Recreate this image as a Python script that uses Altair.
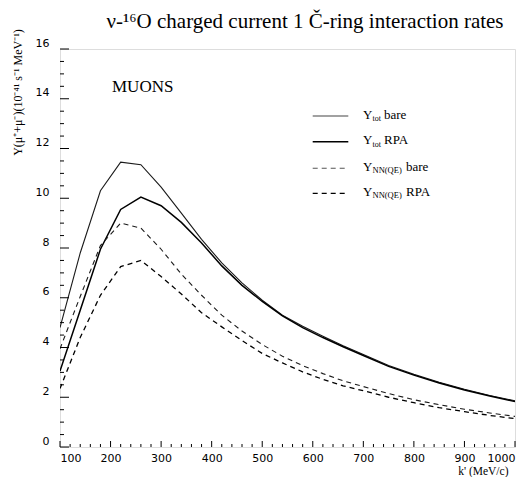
import altair as alt
import pandas as pd

# ---- data ----
k_vals = [100, 140, 180, 220, 260, 300, 340, 380, 420, 460, 500, 540, 580,
          620, 660, 700, 750, 800, 850, 900, 950, 1000]
ytot_bare = [4.8, 7.8, 10.3, 11.45, 11.35, 10.45, 9.4, 8.35, 7.4, 6.6, 5.9, 5.3,
             4.85, 4.45, 4.07, 3.72, 3.28, 2.92, 2.6, 2.32, 2.07, 1.86]
ytot_rpa = [3.05, 5.5, 7.95, 9.55, 10.05, 9.7, 9.03, 8.2, 7.28, 6.5, 5.85, 5.27,
            4.8, 4.4, 4.03, 3.68, 3.24, 2.89, 2.57, 2.29, 2.05, 1.83]
ynn_bare = [3.95, 6.05, 8.1, 9.0, 8.8, 7.95, 6.95, 6.1, 5.3, 4.66, 4.12, 3.65,
            3.27, 2.95, 2.66, 2.43, 2.15, 1.9, 1.7, 1.52, 1.37, 1.23]
ynn_rpa = [2.35, 4.4, 6.1, 7.25, 7.5, 6.85, 6.15, 5.4, 4.83, 4.28, 3.76, 3.38,
           3.02, 2.72, 2.46, 2.26, 2.0, 1.78, 1.58, 1.42, 1.27, 1.14]

x_major = list(range(100, 1001, 100))
x_minor = [v for v in range(100, 1001, 20) if v % 100 != 0]
y_major = [0, 2, 4, 6, 8, 10, 12, 14, 16]
y_minor = [v / 2 for v in range(0, 33) if v % 4 != 0]

W, H = 455, 398
SERIF = "Liberation Serif"
SANS = "DejaVu Sans"

rows = []
for name, vals in [("tot_bare", ytot_bare), ("tot_rpa", ytot_rpa),
                   ("nn_bare", ynn_bare), ("nn_rpa", ynn_rpa)]:
    for k, v in zip(k_vals, vals):
        rows.append({"k": k, "y": v, "s": name})
df = pd.DataFrame(rows)

xs = alt.Scale(domain=[100, 1000], nice=False, zero=False)
ys = alt.Scale(domain=[0, 16], nice=False, zero=False)

base = alt.Chart(df)

def curve(name, width, color, dash=None):
    kw = dict(strokeWidth=width, color=color, clip=True)
    if dash:
        kw["strokeDash"] = dash
    return base.transform_filter(alt.datum.s == name).mark_line(**kw).encode(
        x=alt.X("k:Q", scale=xs,
                axis=alt.Axis(values=x_major, format="d", ticks=False, grid=False,
                              domain=False, labelFont=SANS, labelFontSize=11,
                              labelPadding=5, labelColor="black",
                              title="k' (MeV/c)", titleFont=SERIF, titleFontSize=11.5,
                              titleFontWeight="normal", titleX=448, titleY=24,
                              titleAlign="right", titleBaseline="middle",
                              titleAnchor="end")),
        y=alt.Y("y:Q", scale=ys,
                axis=alt.Axis(values=y_major, format="d", ticks=False, grid=False,
                              domain=False, labelFont=SANS, labelFontSize=11,
                              labelPadding=11, labelColor="black", labelOffset=-6,
                              title="Y(μ⁺+μ⁻)(10⁻⁴¹ s⁻¹ MeV⁻¹)", titleFont=SERIF,
                              titleFontSize=12, titleFontWeight="normal",
                              titleAngle=270, titleX=-43, titleY=43,
                              titleAlign="center", titleBaseline="middle")),
    )

lines = [
    curve("tot_bare", 1.1, "#1a1a1a"),
    curve("tot_rpa", 1.5, "black"),
    curve("nn_bare", 1.1, "#1a1a1a", [5, 4]),
    curve("nn_rpa", 1.3, "black", [5, 4]),
]

# inward ticks
def xticks(vals, length):
    return alt.Chart(pd.DataFrame({"k": vals})).mark_rule(color="black", strokeWidth=1).encode(
        x=alt.X("k:Q", scale=xs), y=alt.value(H), y2=alt.value(H - length))

def yticks(vals, length):
    return alt.Chart(pd.DataFrame({"y": vals})).mark_rule(color="black", strokeWidth=1).encode(
        y=alt.Y("y:Q", scale=ys), x=alt.value(0), x2=alt.value(length))

ticks = [xticks(x_major, 6), xticks(x_minor, 3), yticks(y_major, 9), yticks(y_minor, 4)]

def text(t, x, y, size, align="left", baseline="alphabetic", font=SERIF):
    return alt.Chart(pd.DataFrame({"t": [t]})).mark_text(
        font=font, fontSize=size, align=align, baseline=baseline, color="black"
    ).encode(x=alt.value(x), y=alt.value(y), text="t:N")

annotations = [
    text("ν-¹⁶O charged current 1 Č-ring interaction rates", 245, -27, 21,
         align="center", baseline="middle"),
    text("MUONS", 52, 43, 17),
]

# legend
leg_entries = [
    ("tot", "bare", 67, 1.1, "#444", None),
    ("tot", "RPA", 92.7, 1.5, "black", None),
    ("NN(QE)", "bare", 119.3, 1.1, "#555", [5, 4]),
    ("NN(QE)", "RPA", 144.3, 1.3, "black", [5, 4]),
]
legend = []
for sub, word, ly, sw, col, dash in leg_entries:
    kw = dict(color=col, strokeWidth=sw)
    if dash:
        kw["strokeDash"] = dash
    legend.append(alt.Chart(pd.DataFrame({"a": [0]})).mark_rule(**kw).encode(
        x=alt.value(252.7), x2=alt.value(288.3), y=alt.value(ly)))
    legend.append(text("Y", 303, ly + 2.5, 13))
    legend.append(text(sub, 312.5, ly + 5, 8 if sub == "tot" else 8.5))
    legend.append(text(word, 324 if sub == "tot" else 346, ly + 2.5, 13))

chart = alt.layer(*lines, *ticks, *annotations, *legend).properties(
    width=W, height=H,
    autosize=alt.AutoSizeParams(type="none"),
    padding={"left": 52, "top": 41, "right": 7, "bottom": 30},
).configure_view(stroke="black", strokeWidth=1.5).configure(background="white")

chart.save("out.html", embed_options={"renderer": "svg", "actions": False})
